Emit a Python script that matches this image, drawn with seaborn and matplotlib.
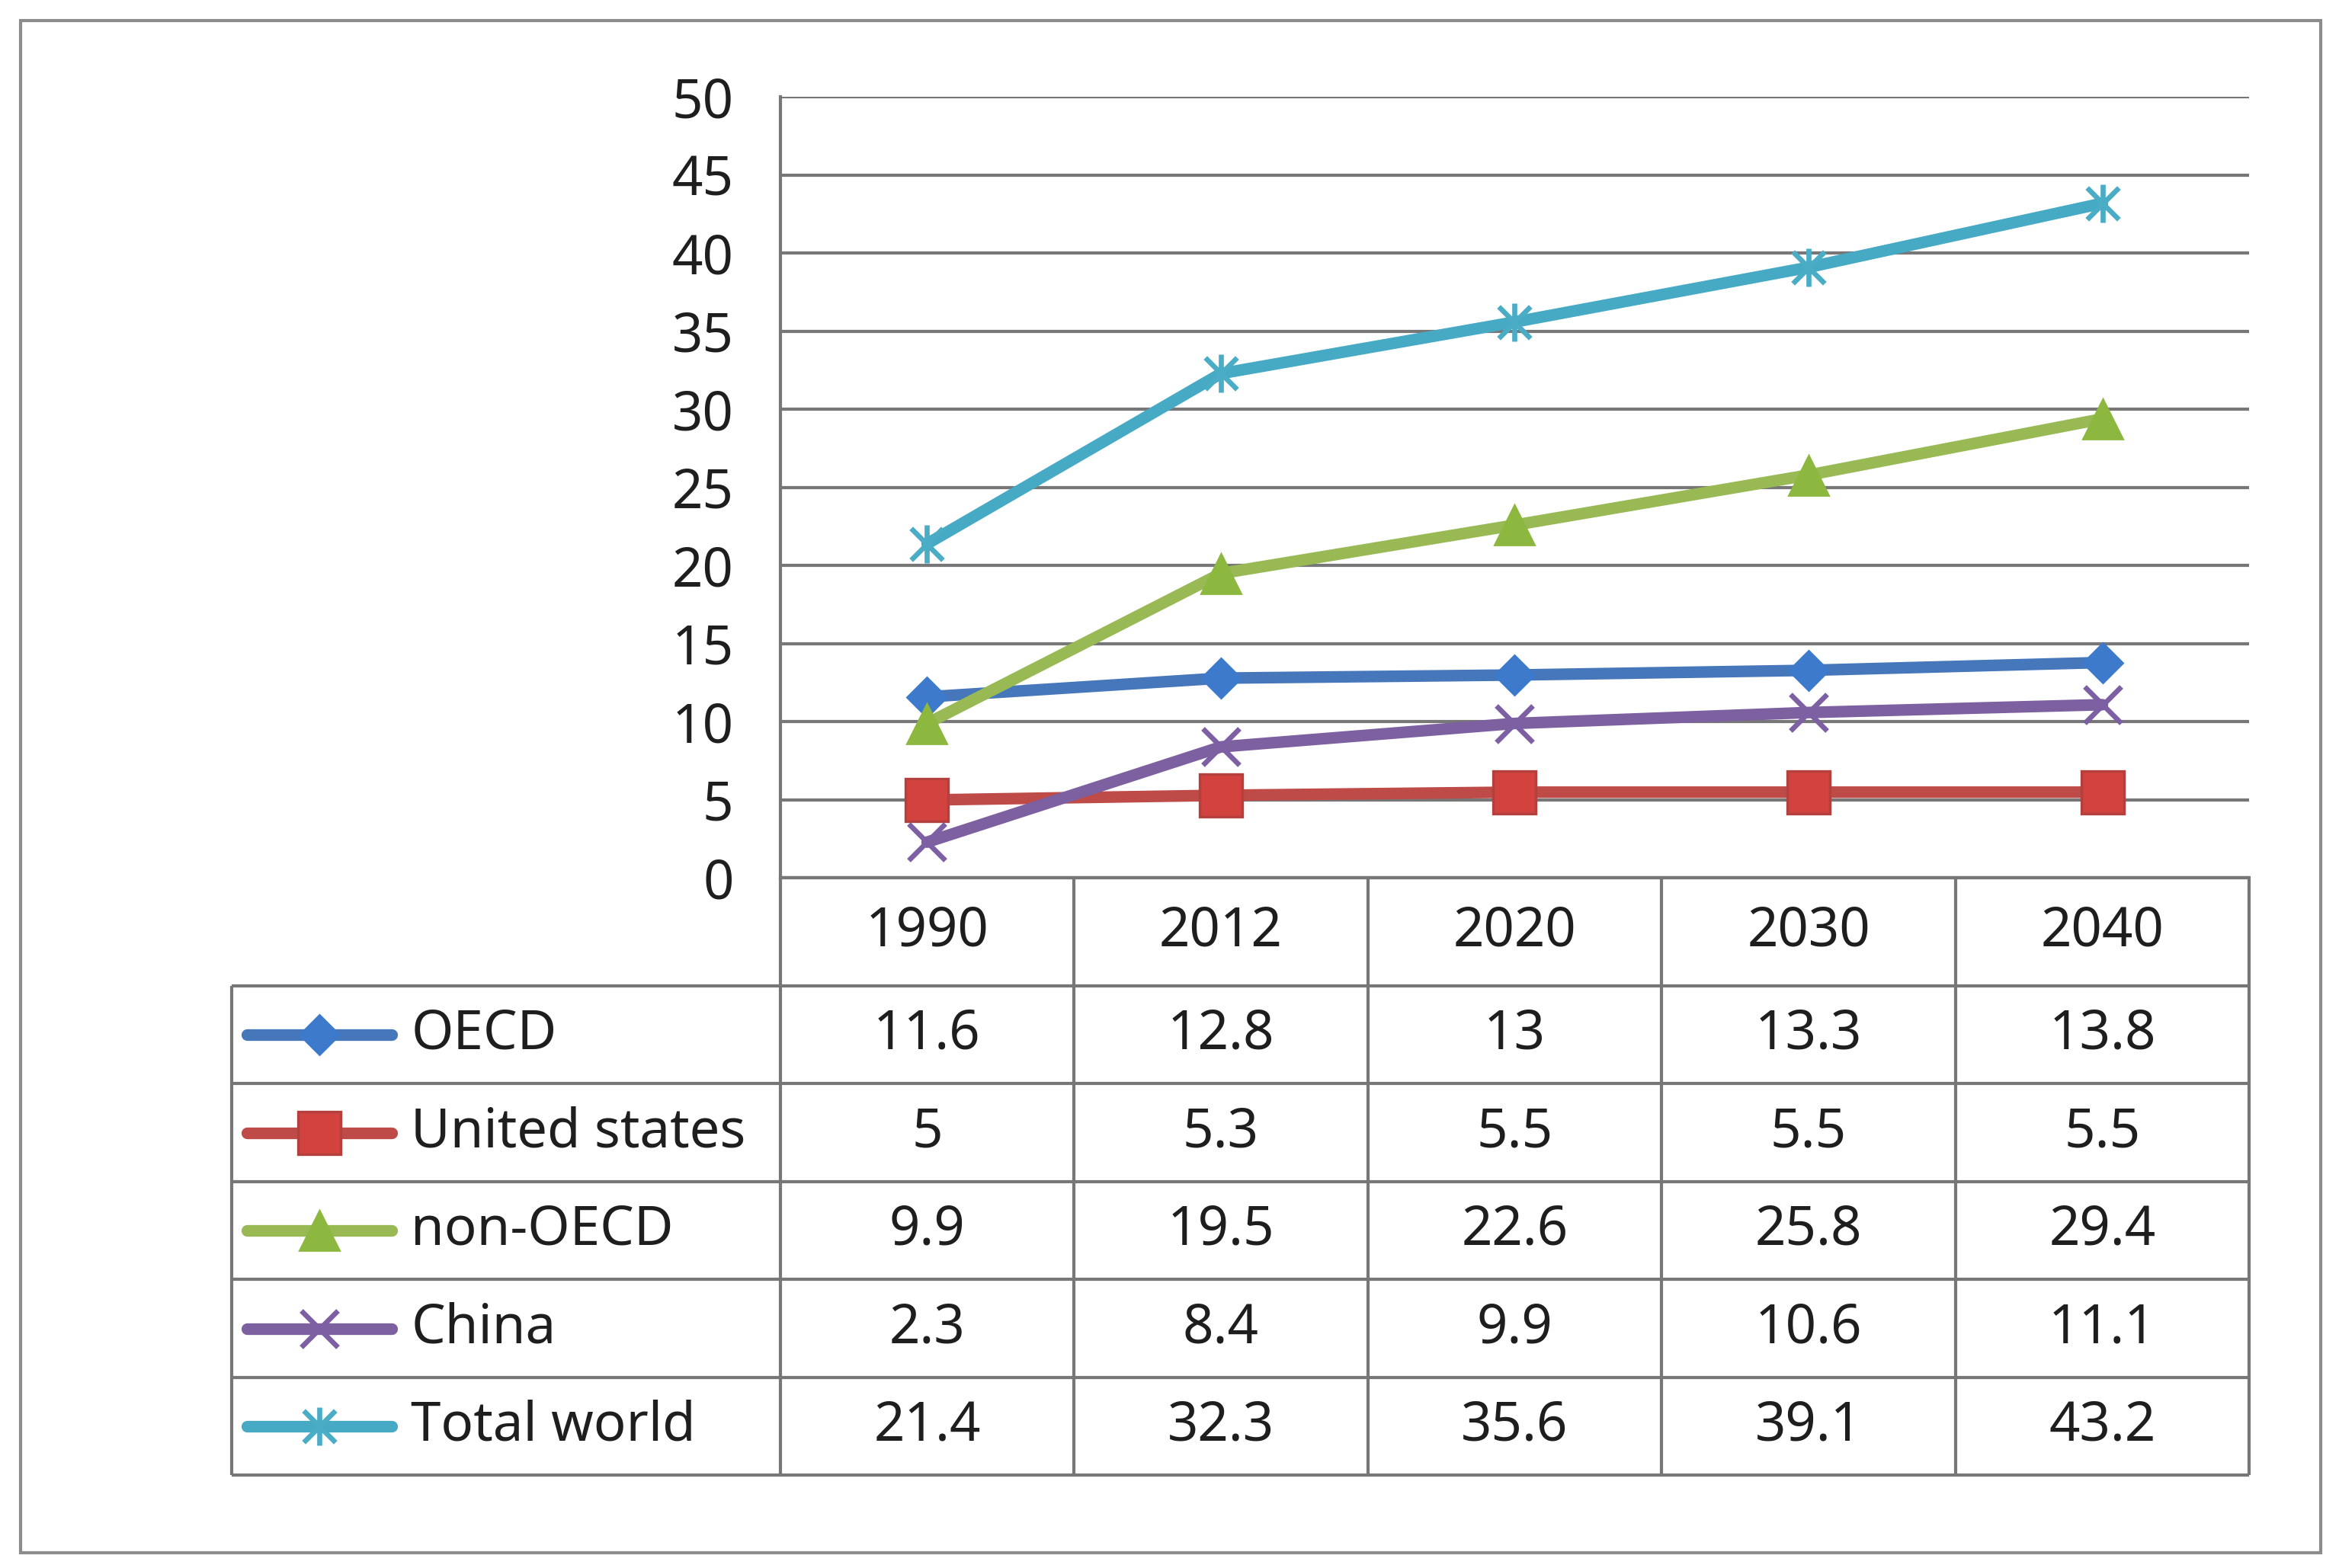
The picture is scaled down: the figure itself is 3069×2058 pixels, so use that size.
import numpy as np
import pandas as pd
import matplotlib
matplotlib.use("Agg")
import matplotlib.pyplot as plt
from matplotlib.path import Path
from matplotlib.patches import Rectangle
import seaborn as sns

years = ['1990', '2012', '2020', '2030', '2040']
oecd = [11.6, 12.8, 13, 13.3, 13.8]
united_states = [5, 5.3, 5.5, 5.5, 5.5]
non_oecd = [9.9, 19.5, 22.6, 25.8, 29.4]
china = [2.3, 8.4, 9.9, 10.6, 11.1]
total_world = [21.4, 32.3, 35.6, 39.1, 43.2]
series_names = ['OECD', 'United states', 'non-OECD', 'China', 'Total world']
y_ticks = [0, 5, 10, 15, 20, 25, 30, 35, 40, 45, 50]

df = pd.DataFrame({'year': years, 'OECD': oecd, 'United states': united_states,
                   'non-OECD': non_oecd, 'China': china, 'Total world': total_world})
df['pos'] = np.arange(len(years))

# excel star marker: an x with a vertical bar
star = Path([(-1, -1), (1, 1), (-1, 1), (1, -1), (0, -1.2), (0, 1.2)],
            [Path.MOVETO, Path.LINETO, Path.MOVETO, Path.LINETO, Path.MOVETO, Path.LINETO])

styles = {
    'OECD': dict(color='#4677BA', marker='D', ms=13, mfc='#3D7ACB', mec='#3D7ACB', mew=1),
    'United states': dict(color='#BE4B48', marker='s', ms=20, mfc='#D2423F', mec='#B4403D', mew=1.2),
    'non-OECD': dict(color='#98B954', marker='^', ms=19, mfc='#8DB83F', mec='#8DB83F', mew=1),
    'China': dict(color='#7D60A0', marker='x', ms=17, mfc='none', mec='#7D5FA3', mew=2.4),
    'Total world': dict(color='#46AAC5', marker=star, ms=18, mfc='none', mec='#4BACC6', mew=2.4),
}

sns.set_style('white')
plt.rcParams['font.family'] = ['Noto Sans', 'DejaVu Sans']
text_color = '#1e1e1e'
grid_color = '#777777'
fs = 25.5
lw_series = 5.5

W, H = 1565.0, 1050.0  # reference layout units
fig = plt.figure(figsize=(15.345, 10.29), dpi=200)

ax_left, ax_right = 522 / W, 1505 / W
ax_bottom, ax_top = 1 - 588 / H, 1 - 65 / H
ax = fig.add_axes([ax_left, ax_bottom, ax_right - ax_left, ax_top - ax_bottom])

for name in series_names:
    st = styles[name]
    sns.lineplot(data=df, x='pos', y=name, ax=ax, color=st['color'], linewidth=lw_series,
                 marker=st['marker'], markersize=st['ms'], markerfacecolor=st['mfc'],
                 markeredgecolor=st['mec'], markeredgewidth=st['mew'], clip_on=False)

ax.set_xlim(-0.5, len(years) - 0.5)
ax.set_ylim(0, 50)
ax.set_yticks(y_ticks)
ax.set_xticks([])
ax.set_xlabel('')
ax.set_ylabel('')
ax.yaxis.grid(True, color=grid_color, linewidth=1.5)
ax.set_axisbelow(True)
for s in ['top', 'right']:
    ax.spines[s].set_visible(False)
for s in ['left', 'bottom']:
    ax.spines[s].set_color(grid_color)
    ax.spines[s].set_linewidth(1.5)
ax.tick_params(axis='y', length=0, pad=22, labelsize=fs, labelcolor=text_color)

# data table under the chart, columns aligned with the categories
tb_left, tb_right = 155 / W, 1505 / W
tb_bottom, tb_top = 1 - 988 / H, 1 - 588 / H
unit = (ax_right - ax_left) / len(years)
x_min = -0.5 - (ax_left - tb_left) / unit
header_h = 1.1
n_rows = len(series_names)
axt = fig.add_axes([tb_left, tb_bottom, tb_right - tb_left, tb_top - tb_bottom])
axt.set_xlim(x_min, len(years) - 0.5)
axt.set_ylim(header_h + n_rows, 0)
axt.axis('off')

lw_t = 1.5
col_edges = np.arange(len(years) + 1) - 0.5
# header row borders (only over the year columns)
axt.hlines(0, col_edges[0], col_edges[-1], color=grid_color, lw=lw_t, clip_on=False)
for i in range(n_rows + 1):
    axt.hlines(header_h + i, x_min, col_edges[-1], color=grid_color, lw=lw_t, clip_on=False)
for xe in col_edges:
    axt.vlines(xe, 0, header_h + n_rows, color=grid_color, lw=lw_t, clip_on=False)
axt.vlines(x_min, header_h, header_h + n_rows, color=grid_color, lw=lw_t, clip_on=False)

for j, yr in enumerate(years):
    axt.text(j, header_h / 2, yr, ha='center', va='center', fontsize=fs, color=text_color)

px = 1 / 196.6  # column units per reference pixel
for i, name in enumerate(series_names):
    yc = header_h + i + 0.5
    st = styles[name]
    g0, g1 = x_min + 10 * px, x_min + 107 * px
    axt.plot([g0, (g0 + g1) / 2, g1], [yc] * 3, color=st['color'], linewidth=lw_series,
             marker=st['marker'], markersize=st['ms'], markerfacecolor=st['mfc'],
             markeredgecolor=st['mec'], markeredgewidth=st['mew'], markevery=[1],
             clip_on=False)
    axt.text(x_min + 120 * px, yc, name, ha='left', va='center', fontsize=fs, color=text_color)
    for j, v in enumerate(df[name]):
        axt.text(j, yc, f'{v:g}', ha='center', va='center', fontsize=fs, color=text_color)

# outer frame of the chart object
fig.add_artist(Rectangle((14 / W, 1 - 1040 / H), (1553 - 14) / W, (1040 - 14) / H,
                         transform=fig.transFigure, fill=False, edgecolor='#8c8c8c', lw=1.5))

fig.savefig('out.png', dpi=200, facecolor='white')
